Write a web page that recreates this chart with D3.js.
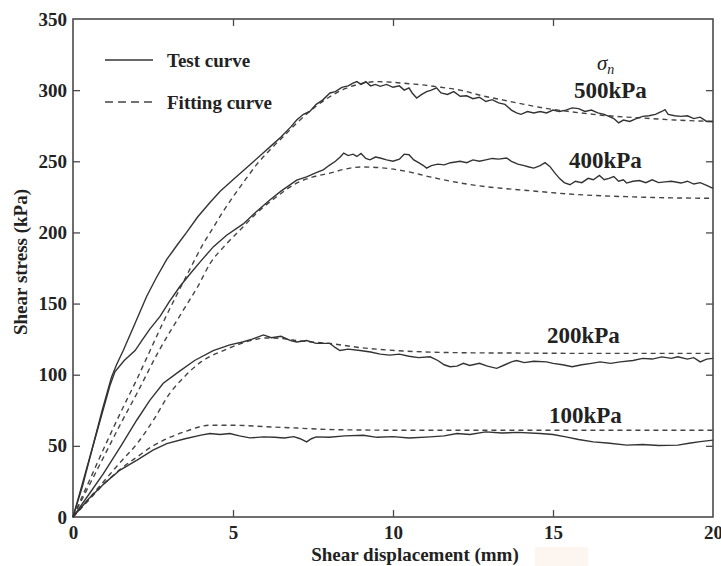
<!DOCTYPE html>
<html>
<head>
<meta charset="utf-8">
<script src="https://cdn.jsdelivr.net/npm/d3@7"></script>
<style>
body { margin: 0; background: #fff; }
svg { display: block; }
text { font-family: "Liberation Serif", "Times New Roman", serif; font-weight: bold; fill: #222; }
</style>
</head>
<body>
<svg width="721" height="566"></svg>
<script>
// shear displacement (mm) vs shear stress (kPa)
const xTicks = [0, 5, 10, 15, 20];
const yTicks = [0, 50, 100, 150, 200, 250, 300, 350];
const loadLabels = ['500kPa', '400kPa', '200kPa', '100kPa'];

const test500 = [[0,0],[0.3,22],[0.6,48],[0.9,74],[1.2,98],[1.36,107],[1.57,117],[1.9,134],[2.3,155],[2.6,168],[2.93,181],[3.25,191],[3.55,200],[3.9,211],[4.28,221],[4.6,229],[5.0,237],[5.3,243],[5.6,249],[5.95,256],[6.2,261],[6.5,267],[6.8,274],[6.99,279],[7.2,283],[7.4,285],[7.6,290],[7.8,293],[8.03,298],[8.2,299],[8.4,302],[8.6,303],[8.75,305],[8.87,306],[9.0,304],[9.15,306],[9.3,303],[9.45,304],[9.6,302.7],[9.8,304],[10.0,302],[10.2,303],[10.35,300],[10.5,301.6],[10.6,298],[10.74,294.5],[10.9,297],[11.05,299],[11.2,300],[11.36,301.6],[11.5,298],[11.7,297],[11.9,299],[12.1,295.7],[12.3,296],[12.5,294],[12.7,295],[12.9,292],[13.1,293.3],[13.3,291],[13.5,290],[13.7,286],[13.86,284],[14.0,283],[14.2,285],[14.4,284],[14.6,285],[14.8,284],[15.0,286],[15.2,285],[15.4,286],[15.6,287.5],[15.8,287],[16.0,285],[16.2,286],[16.4,284],[16.6,283],[16.8,281],[16.9,280],[17.05,277],[17.2,279],[17.4,278],[17.6,280],[17.8,281.6],[18.0,282],[18.2,283],[18.4,285],[18.5,286.3],[18.6,283],[18.8,282],[19.0,281.6],[19.2,282],[19.4,280],[19.6,281],[19.8,278],[20,278]];
const fit500 = [[0,0],[0.5,25],[1,50],[1.5,74],[2,97],[2.41,117],[2.8,136],[3.24,156],[3.65,174],[4.07,192],[4.4,204],[4.7,215],[5,225],[5.32,235],[5.75,248],[6.2,259],[6.6,268],[7,277],[7.5,287],[8,295],[8.5,301],[9,304.5],[9.5,306],[10,305.5],[10.5,304.5],[11,303.5],[11.5,302],[12.1,300],[12.8,296],[13.45,293],[14.1,290],[14.7,287.5],[15.5,285],[16.26,283],[17,281.5],[17.8,280.4],[18.8,279],[20,278]];

const test400 = [[0,0],[0.3,24],[0.6,48],[0.9,72],[1.15,92],[1.31,102],[1.6,110],[1.94,117],[2.15,124],[2.4,132],[2.72,141],[3.0,151],[3.34,162],[3.7,172],[4.0,180],[4.39,190],[4.8,198],[5.32,206],[5.7,214],[6.16,223],[6.5,229],[6.99,236.7],[7.3,239],[7.6,242],[7.82,244],[8.0,247],[8.2,250],[8.35,253],[8.46,255.8],[8.6,254],[8.75,255],[8.87,253.4],[9.0,255.5],[9.15,252],[9.28,251],[9.45,253],[9.6,252.3],[9.8,251],[10.0,250],[10.2,251.5],[10.35,255],[10.5,254.6],[10.65,251],[10.8,249],[10.95,247],[11.05,245.2],[11.2,247],[11.4,248],[11.6,247.5],[11.8,249],[12.1,250],[12.3,249],[12.5,251],[12.7,250],[12.9,251],[13.1,252],[13.3,251.5],[13.55,252.3],[13.7,250],[13.9,248],[14.1,247],[14.25,246],[14.4,245.2],[14.6,247],[14.75,249],[14.9,246.4],[15.05,242],[15.2,238],[15.35,235],[15.53,233.5],[15.7,236],[15.9,235],[16.1,238],[16.26,237],[16.45,240],[16.6,237],[16.75,238],[16.9,239.3],[17.05,236],[17.2,237],[17.3,234.7],[17.5,236],[17.7,236.5],[17.9,235],[18.1,237],[18.3,235],[18.5,235.5],[18.7,236],[19.0,234.7],[19.2,236],[19.4,234],[19.6,235],[19.8,233],[20,231]];
const fit400 = [[0,0],[0.5,22],[1,44],[1.5,66],[2,87],[2.69,117],[3.45,145.5],[3.9,162],[4.28,178],[4.8,192],[5.32,204],[5.74,213.6],[6.3,224],[6.99,234.7],[7.5,239],[8.03,241.7],[8.5,244.5],[9,246],[9.6,245.5],[10.4,243],[11.16,239],[11.8,236],[12.6,233],[13.4,231],[14.2,229.5],[15.2,227.5],[16.26,226],[17.5,225],[18.7,224.3],[20,224]];

const test200 = [[0,0],[0.5,16],[0.95,30.5],[1.5,50],[1.99,68],[2.4,82],[2.82,94],[3.3,102],[3.8,110],[4.38,117],[4.9,121],[5.3,123],[5.6,125],[5.95,128],[6.2,126],[6.5,127],[6.8,124],[6.99,123],[7.3,124],[7.6,122],[8.03,122],[8.2,119],[8.34,117],[8.6,118],[8.97,117],[9.3,116],[9.6,114.5],[9.9,113.8],[10.2,114.5],[10.5,113],[10.8,112],[11.16,112.6],[11.4,110],[11.6,107],[11.78,105.6],[12.0,106],[12.2,108],[12.4,106.5],[12.7,108],[12.95,106],[13.24,104.5],[13.5,107],[13.7,109],[13.86,110],[14.1,108.5],[14.4,109.5],[14.8,109],[15.0,108],[15.3,107],[15.6,105.6],[15.9,107],[16.2,108],[16.47,109],[16.8,108],[17.1,109],[17.5,110],[17.8,111.5],[18.1,111],[18.4,112.5],[18.7,111.5],[18.9,112.6],[19.2,111],[19.4,112],[19.6,109],[19.8,111],[20,111.5]];
const fit200 = [[0,0],[0.5,13],[1,26],[1.5,39],[2,51.5],[2.51,68],[3.03,87],[3.5,99],[4,109],[4.7,117],[5.2,121.5],[5.63,124.4],[6,125.8],[6.5,125.5],[7,124],[8,122],[9,119],[10.1,117],[11,116],[12,115.5],[13,115.3],[14,115.2],[16,115],[18,115],[20,115]];

const test100 = [[0,0],[0.5,13],[1.0,24],[1.47,33],[2.0,40],[2.5,47],[2.93,51.6],[3.5,55],[4.0,57.5],[4.28,58.7],[4.6,58],[4.9,58.7],[5.2,57],[5.53,55.6],[5.95,56.3],[6.3,56],[6.6,55.5],[6.9,56.5],[7.1,55],[7.3,52.8],[7.45,55],[7.6,56.3],[8.0,56],[8.5,57],[9.07,57.5],[9.5,56],[10.0,56.5],[10.5,55.5],[11.16,56.3],[11.6,57],[12.0,58.7],[12.4,58],[12.9,59.8],[13.4,59],[13.9,59.5],[14.6,58.7],[15.0,58],[15.4,56.3],[15.8,54.5],[16.26,52.8],[16.7,52],[17.3,50.5],[17.8,51],[18.3,50.3],[18.9,50.5],[19.3,52],[19.6,53],[20,54]];
const fit100 = [[0,0],[0.5,12],[1,24],[1.5,34],[1.99,42],[2.5,50],[2.93,55],[3.5,60],[4.28,64.5],[5,64.5],[6,63.5],[7,62.5],[8,61.5],[10,61],[14,61],[20,61]];

const testCurves = [test500, test400, test200, test100];
const fitCurves = [fit500, fit400, fit200, fit100];

const margin = { top: 19, right: 8, bottom: 49, left: 73 };
const width = 721 - margin.left - margin.right;
const height = 566 - margin.top - margin.bottom;

const svg = d3.select('svg');

// faint patch under the axis title, as in the scan
svg.append('rect')
	.attr('x', 535).attr('y', 547).attr('width', 53).attr('height', 19)
	.attr('fill', '#fcf5f0');

const g = svg.append('g')
	.attr('transform', 'translate(' + margin.left + ',' + margin.top + ')');

const x = d3.scaleLinear().domain([0, 20]).range([0, width]);
const y = d3.scaleLinear().domain([0, 350]).range([height, 0]);

const axisColor = '#4a4a4a';

function styleAxis(sel) {
	sel.select('.domain').remove();
	sel.selectAll('line').attr('stroke', axisColor).attr('stroke-width', 1.3);
	sel.selectAll('text').style('font-size', '19px').attr('fill', '#222');
}

g.append('g')
	.attr('transform', 'translate(0,' + height + ')')
	.call(d3.axisBottom(x).tickValues(xTicks).tickSize(-7).tickPadding(9).tickFormat(d3.format('d')))
	.call(styleAxis)
	.call(a => a.selectAll('.tick').filter(d => d === 0 || d === 20).select('line').remove());

g.append('g')
	.call(d3.axisTop(x).tickValues(xTicks.slice(1, -1)).tickSize(-7).tickFormat(''))
	.call(styleAxis);

g.append('g')
	.call(d3.axisLeft(y).tickValues(yTicks).tickSize(-7).tickPadding(6).tickFormat(d3.format('d')))
	.call(styleAxis)
	.call(a => a.selectAll('.tick').filter(d => d === 0 || d === 350).select('line').remove());

g.append('g')
	.attr('transform', 'translate(' + width + ',0)')
	.call(d3.axisRight(y).tickValues(yTicks.slice(1, -1)).tickSize(-7).tickFormat(''))
	.call(styleAxis);

// frame
g.append('rect')
	.attr('width', width).attr('height', height)
	.attr('fill', 'none')
	.attr('stroke', axisColor)
	.attr('stroke-width', 1.6);

const line = d3.line()
	.x(d => x(d[0]))
	.y(d => y(d[1]));

g.selectAll('.fit')
	.data(fitCurves)
	.enter().append('path')
	.attr('class', 'fit')
	.attr('d', line.curve(d3.curveMonotoneX))
	.attr('fill', 'none')
	.attr('stroke', '#444')
	.attr('stroke-width', 1.4)
	.attr('stroke-dasharray', '5,4');

g.selectAll('.test')
	.data(testCurves)
	.enter().append('path')
	.attr('class', 'test')
	.attr('d', line.curve(d3.curveLinear))
	.attr('fill', 'none')
	.attr('stroke', '#333')
	.attr('stroke-width', 1.4);

// legend
const legend = svg.append('g');
legend.append('line')
	.attr('x1', 105).attr('x2', 153).attr('y1', 60).attr('y2', 60)
	.attr('stroke', '#333').attr('stroke-width', 1.4);
legend.append('text')
	.attr('x', 167).attr('y', 67)
	.style('font-size', '19px')
	.text('Test curve');
legend.append('line')
	.attr('x1', 105).attr('x2', 153).attr('y1', 102).attr('y2', 102)
	.attr('stroke', '#444').attr('stroke-width', 1.4)
	.attr('stroke-dasharray', '8,5');
legend.append('text')
	.attr('x', 167).attr('y', 109)
	.style('font-size', '19px')
	.text('Fitting curve');

// normal stress labels
const labelPos = [[574, 98], [569, 168], [547, 343], [549, 423]];
svg.selectAll('.load')
	.data(loadLabels)
	.enter().append('text')
	.attr('class', 'load')
	.attr('x', (d, i) => labelPos[i][0])
	.attr('y', (d, i) => labelPos[i][1])
	.style('font-size', '23px')
	.text(d => d);

const sigma = svg.append('text')
	.attr('x', 597).attr('y', 70)
	.style('font-size', '21px')
	.style('font-style', 'italic')
	.style('font-weight', 'normal');
sigma.append('tspan').text('σ');
sigma.append('tspan').attr('dy', 4).style('font-size', '14px').text('n');

// axis titles
svg.append('text')
	.attr('x', 415).attr('y', 561)
	.attr('text-anchor', 'middle')
	.style('font-size', '19px')
	.text('Shear displacement (mm)');

svg.append('text')
	.attr('transform', 'translate(27,262) rotate(-90)')
	.attr('text-anchor', 'middle')
	.style('font-size', '19px')
	.text('Shear stress (kPa)');
</script>
</body>
</html>
